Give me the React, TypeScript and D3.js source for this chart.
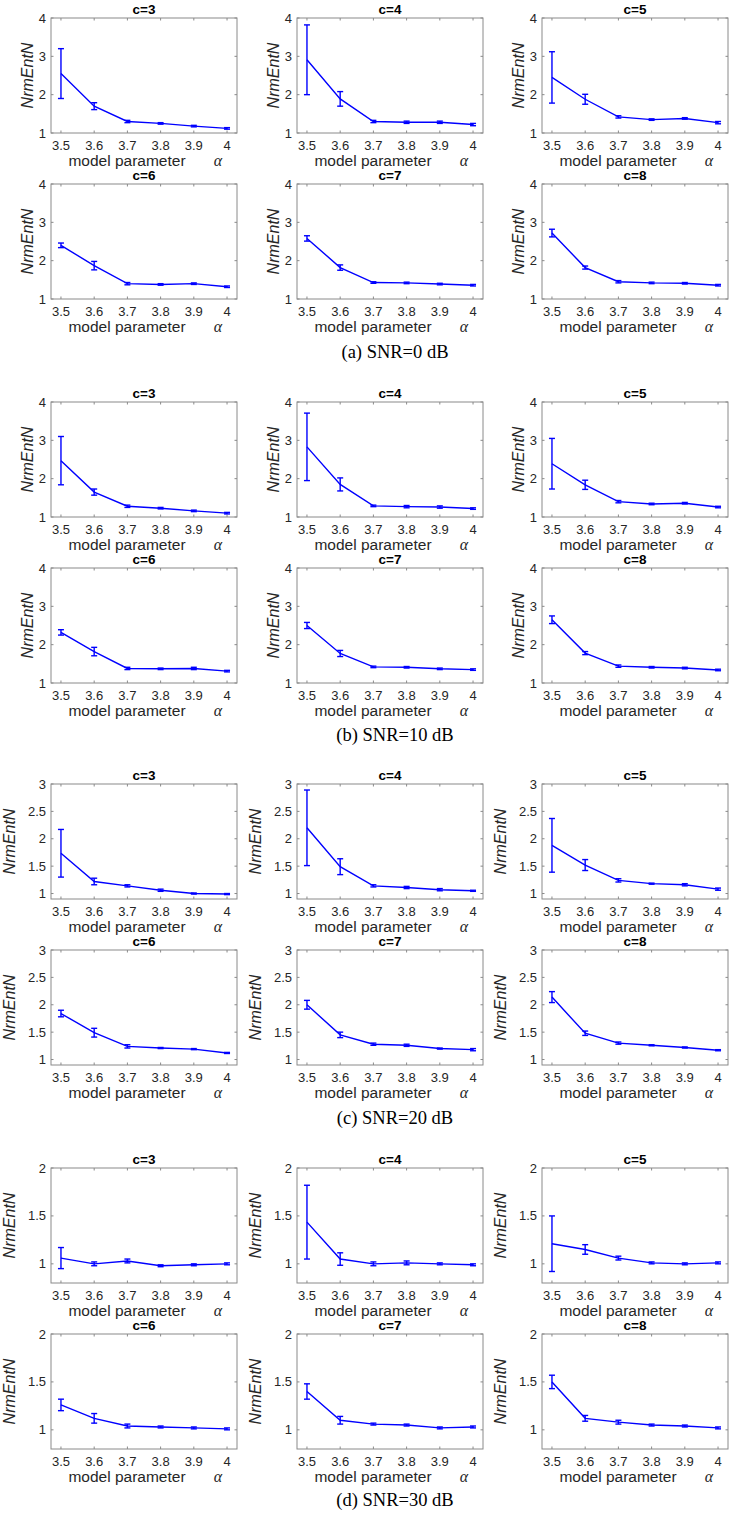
import React from "react";
import * as d3 from "d3";

const alphaValues = [3.5, 3.6, 3.7, 3.8, 3.9, 4];
const xTickLabels = ["3.5", "3.6", "3.7", "3.8", "3.9", "4"];
const panelTitles = ["c=3", "c=4", "c=5", "c=6", "c=7", "c=8"];
const captions = ["(a) SNR=0 dB", "(b) SNR=10 dB", "(c) SNR=20 dB", "(d) SNR=30 dB"];

const yDomains: [number, number][] = [[1, 4], [1, 4], [0.9, 3], [0.8, 2]];
const yTicks = [[1, 2, 3, 4], [1, 2, 3, 4], [1, 1.5, 2, 2.5, 3], [1, 1.5, 2]];

// SNR = 0 dB
const meanSnr0 = [
  [2.55, 1.7, 1.3, 1.25, 1.18, 1.12],
  [2.91, 1.89, 1.3, 1.28, 1.28, 1.22],
  [2.45, 1.88, 1.42, 1.35, 1.38, 1.27],
  [2.4, 1.87, 1.4, 1.38, 1.4, 1.32],
  [2.58, 1.82, 1.43, 1.42, 1.39, 1.36],
  [2.72, 1.82, 1.45, 1.42, 1.41, 1.36],
];
const errSnr0 = [
  [0.65, 0.09, 0.03, 0.02, 0.02, 0.02],
  [0.91, 0.19, 0.03, 0.03, 0.03, 0.03],
  [0.67, 0.13, 0.03, 0.02, 0.02, 0.03],
  [0.06, 0.11, 0.03, 0.02, 0.02, 0.02],
  [0.07, 0.07, 0.02, 0.02, 0.02, 0.02],
  [0.1, 0.04, 0.03, 0.02, 0.02, 0.02],
];
// SNR = 10 dB
const meanSnr10 = [
  [2.47, 1.65, 1.28, 1.23, 1.16, 1.1],
  [2.83, 1.85, 1.29, 1.27, 1.26, 1.22],
  [2.39, 1.84, 1.4, 1.34, 1.36, 1.26],
  [2.32, 1.82, 1.38, 1.37, 1.38, 1.31],
  [2.5, 1.77, 1.42, 1.41, 1.37, 1.35],
  [2.65, 1.78, 1.44, 1.41, 1.39, 1.34],
];
const errSnr10 = [
  [0.63, 0.08, 0.03, 0.02, 0.02, 0.02],
  [0.88, 0.17, 0.02, 0.03, 0.03, 0.02],
  [0.66, 0.12, 0.03, 0.02, 0.02, 0.02],
  [0.07, 0.11, 0.03, 0.02, 0.03, 0.02],
  [0.08, 0.08, 0.02, 0.02, 0.02, 0.02],
  [0.1, 0.04, 0.03, 0.02, 0.02, 0.02],
];
// SNR = 20 dB
const meanSnr20 = [
  [1.735, 1.22, 1.14, 1.06, 1.0, 0.99],
  [2.2, 1.49, 1.14, 1.11, 1.07, 1.05],
  [1.88, 1.52, 1.24, 1.18, 1.16, 1.08],
  [1.84, 1.49, 1.24, 1.21, 1.19, 1.12],
  [2.0, 1.45, 1.28, 1.26, 1.2, 1.18],
  [2.14, 1.48, 1.3, 1.26, 1.22, 1.17],
];
const errSnr20 = [
  [0.435, 0.06, 0.02, 0.02, 0.01, 0.01],
  [0.69, 0.145, 0.02, 0.02, 0.02, 0.01],
  [0.49, 0.1, 0.03, 0.01, 0.02, 0.02],
  [0.06, 0.08, 0.03, 0.01, 0.01, 0.01],
  [0.08, 0.05, 0.02, 0.02, 0.01, 0.02],
  [0.1, 0.04, 0.02, 0.01, 0.01, 0.01],
];
// SNR = 30 dB
const meanSnr30 = [
  [1.06, 1.0, 1.03, 0.98, 0.99, 1.0],
  [1.435, 1.05, 1.0, 1.01, 1.0, 0.99],
  [1.21, 1.15, 1.06, 1.01, 1.0, 1.01],
  [1.26, 1.12, 1.04, 1.03, 1.02, 1.01],
  [1.4, 1.1, 1.06, 1.05, 1.02, 1.03],
  [1.5, 1.12, 1.08, 1.05, 1.04, 1.02],
];
const errSnr30 = [
  [0.11, 0.02, 0.02, 0.01, 0.01, 0.01],
  [0.385, 0.065, 0.02, 0.02, 0.01, 0.01],
  [0.29, 0.05, 0.02, 0.01, 0.01, 0.01],
  [0.06, 0.05, 0.02, 0.01, 0.01, 0.01],
  [0.08, 0.04, 0.01, 0.01, 0.01, 0.01],
  [0.07, 0.03, 0.02, 0.01, 0.01, 0.01],
];

const groupMeans = [meanSnr0, meanSnr10, meanSnr20, meanSnr30];
const groupErrs = [errSnr0, errSnr10, errSnr20, errSnr30];

// layout
const W = 740;
const H = 1528;
const colLefts = [51, 297, 542];
const boxW = 186;
const boxH = 115;
const rowStep = 166;
const groupTops = [18, 402, 784, 1168];
const captionYs = [358, 741, 1124, 1506];
const yLabelOffsets = [18, 18, 36, 36];

const BLUE = "#0000ff";
const AXIS = "#8a8a8a";
const TEXT = "#262626";
const SANS = "'Liberation Sans', Arial, Helvetica, sans-serif";

function Panel({ g, idx }: { g: number; idx: number }) {
  const col = idx % 3;
  const row = Math.floor(idx / 3);
  const left = colLefts[col];
  const top = groupTops[g] + row * rowStep;
  const x = d3.scaleLinear().domain([3.47, 4.03]).range([left, left + boxW]);
  const y = d3.scaleLinear().domain(yDomains[g]).range([top + boxH, top]);
  const means = groupMeans[g][idx];
  const errs = groupErrs[g][idx];
  const pts = alphaValues.map((a, i) => [a, means[i]] as [number, number]);
  const line = d3.line<[number, number]>().x((d) => x(d[0])).y((d) => y(d[1]));
  const tl = 2.5;
  const cap = 3;
  return (
    <g>
      <rect x={left} y={top} width={boxW} height={boxH} fill="white" stroke={AXIS} strokeWidth={1} />
      {alphaValues.map((a, i) => (
        <g key={"xt" + i}>
          <line x1={x(a)} x2={x(a)} y1={top + boxH} y2={top + boxH - tl} stroke={AXIS} />
          <line x1={x(a)} x2={x(a)} y1={top} y2={top + tl} stroke={AXIS} />
          <text x={x(a)} y={top + boxH + 17} textAnchor="middle" fontSize={13} fill={TEXT} fontFamily={SANS}>
            {xTickLabels[i]}
          </text>
        </g>
      ))}
      {yTicks[g].map((t, i) => (
        <g key={"yt" + i}>
          <line x1={left} x2={left + tl} y1={y(t)} y2={y(t)} stroke={AXIS} />
          <line x1={left + boxW} x2={left + boxW - tl} y1={y(t)} y2={y(t)} stroke={AXIS} />
          <text x={left - 5} y={y(t) + 4.5} textAnchor="end" fontSize={13} fill={TEXT} fontFamily={SANS}>
            {String(t)}
          </text>
        </g>
      ))}
      <path d={line(pts) || ""} fill="none" stroke={BLUE} strokeWidth={1.4} />
      {pts.map((p, i) => {
        const cx = x(p[0]);
        const y1 = y(p[1] - errs[i]);
        const y2 = y(p[1] + errs[i]);
        return (
          <g key={"e" + i} stroke={BLUE} strokeWidth={1.4}>
            <line x1={cx} x2={cx} y1={y1} y2={y2} />
            <line x1={cx - cap} x2={cx + cap} y1={y1} y2={y1} />
            <line x1={cx - cap} x2={cx + cap} y1={y2} y2={y2} />
          </g>
        );
      })}
      <text x={left + boxW / 2} y={top - 4} textAnchor="middle" fontSize={13.5} fontWeight="bold" fill="#000" fontFamily={SANS}>
        {panelTitles[idx]}
      </text>
      <text x={left + 76} y={top + boxH + 33} textAnchor="middle" fontSize={15.5} fill={TEXT} fontFamily={SANS}>
        model parameter
      </text>
      <text x={left + 167} y={top + boxH + 33} textAnchor="middle" fontSize={16} fontStyle="italic" fill={TEXT} fontFamily="'Liberation Serif', 'Times New Roman', serif">
        α
      </text>
      <text
        transform={`translate(${left - yLabelOffsets[g]},${top + boxH / 2}) rotate(-90)`}
        textAnchor="middle"
        fontSize={16}
        fontStyle="italic"
        fill={TEXT}
        fontFamily={SANS}
      >
        NrmEntN
      </text>
    </g>
  );
}

export default function App() {
  return (
    <svg width={W} height={H} style={{ position: "absolute", left: 0, top: 0, background: "white" }}>
      <rect x={0} y={0} width={W} height={H} fill="white" />
      {captions.map((c, g) => (
        <g key={g}>
          {panelTitles.map((_, idx) => (
            <Panel key={idx} g={g} idx={idx} />
          ))}
          <text x={395} y={captionYs[g]} textAnchor="middle" fontSize={18.5} fill="#000" fontFamily="'Liberation Serif', 'Times New Roman', serif">
            {c}
          </text>
        </g>
      ))}
    </svg>
  );
}
